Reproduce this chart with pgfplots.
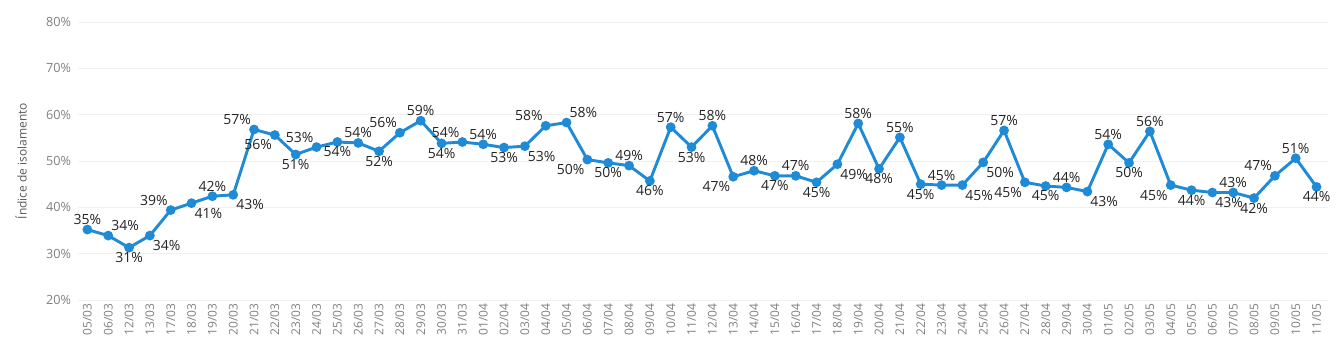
\documentclass[border=0pt]{standalone}
\usepackage{pgfplots}
\pgfplotsset{compat=1.18}
\usepackage{pgfplotstable}
\usepackage{fontspec}
\setmainfont{Open Sans}
\definecolor{lineblue}{RGB}{31,138,214}
\definecolor{ticklab}{RGB}{128,128,128}
\definecolor{datalab}{RGB}{37,36,35}
\definecolor{gridc}{RGB}{240,240,240}
\pgfplotstableread[col sep=comma]{
x,y,a,d
0,35.2,south,05/03
1,33.9,south west,06/03
2,31.3,north,12/03
3,33.9,north west,13/03
4,39.4,south east,17/03
5,40.9,north west,18/03
6,42.4,south,19/03
7,42.7,north west,20/03
8,56.8,south east,21/03
9,55.6,north east,22/03
10,51.4,north,23/03
11,53.0,south east,24/03
12,54.1,north,25/03
13,53.9,south,26/03
14,52.1,north,27/03
15,56.1,south east,28/03
16,58.7,south,29/03
17,53.8,north,30/03
18,54.1,south east,31/03
19,53.6,south,01/04
20,52.9,north,02/04
21,53.2,north west,03/04
22,57.6,south east,04/04
23,58.3,south west,05/04
24,50.3,north east,06/04
25,49.6,north,07/04
26,49.0,south,08/04
27,45.7,north,09/04
28,57.3,south,10/04
29,53.0,north,11/04
30,57.6,south,12/04
31,46.6,north east,13/04
32,47.9,south,14/04
33,46.8,north,15/04
34,46.8,south,16/04
35,45.4,north,17/04
36,49.3,north west,18/04
37,58.1,south,19/04
38,48.3,north,20/04
39,55.1,south,21/04
40,45.0,north,22/04
41,44.8,south,23/04
42,44.8,north west,24/04
43,49.7,north west,25/04
44,56.6,south,26/04
45,45.4,north east,27/04
46,44.6,north,28/04
47,44.3,south,29/04
48,43.4,north west,30/04
49,53.6,south,01/05
50,49.6,north,02/05
51,56.4,south,03/05
52,44.8,north east,04/05
53,43.7,north,05/05
54,43.2,north west,06/05
55,43.2,south,07/05
56,42.0,north,08/05
57,46.8,south east,09/05
58,50.6,south,10/05
59,44.4,north,11/05
}\data
\begin{document}
\begin{tikzpicture}
\path[use as bounding box] (0,0) rectangle (1006.5pt,264.75pt);
\begin{axis}[
  at={(58.5pt,39.75pt)}, anchor=south west,
  scale only axis, width=937.5pt, height=208.5pt,
  xmin=-0.45, xmax=59.55, ymin=20, ymax=80,
  clip=false,
  axis line style={draw=none},
  tick style={draw=none},
  xtick=data,
  xticklabels from table={\data}{d},
  xticklabel style={rotate=90, anchor=east, font=\fontsize{9}{10}\selectfont, text=ticklab, inner sep=2.5pt},
  ytick={20,30,40,50,60,70,80},
  yticklabels={20\%,30\%,40\%,50\%,60\%,70\%,80\%},
  yticklabel style={font=\fontsize{9.5}{11}\selectfont, text=ticklab, inner sep=5pt},
  ymajorgrids, major grid style={gridc, line width=0.6pt},
  ylabel={Índice de isolamento},
  every axis y label/.style={at={(axis description cs:-0.0456,0.5)}, rotate=90, anchor=center, font=\fontsize{9}{10}\selectfont, text=black!65},
  /pgf/number format/assume math mode=true,
]
\addplot[color=lineblue, line width=2.2pt, mark=*, mark size=2.5pt,
  point meta=explicit symbolic,
  visualization depends on={y \as \rawy},
  nodes near coords={\pgfmathprintnumber[fixed,precision=0]{\rawy}\%},
  every node near coord/.append style={anchor=\pgfplotspointmeta, font=\fontsize{10.5}{12}\selectfont, text=datalab, inner xsep=1.2pt, inner ysep=2.5pt},
] table[x=x, y=y, meta=a] {\data};
\end{axis}
\end{tikzpicture}
\end{document}
